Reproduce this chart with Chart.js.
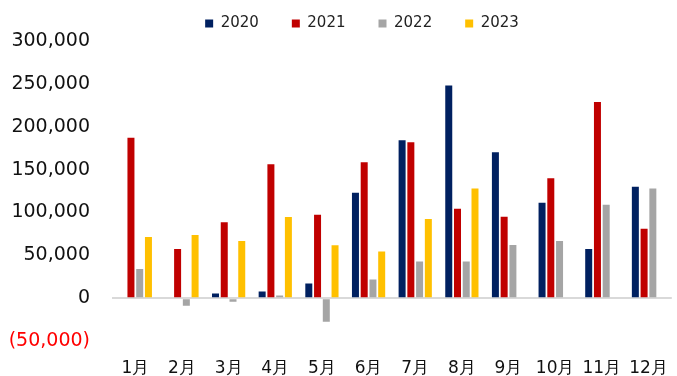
<!DOCTYPE html>
<html>
<head>
<meta charset="utf-8">
<script src="https://cdn.jsdelivr.net/npm/chart.js@4/dist/chart.umd.min.js"></script>
<style>
  html, body { margin: 0; padding: 0; background: #fff; }
  #wrap { width: 677px; height: 376px; }
</style>
</head>
<body>
<div id="wrap"><canvas id="c" width="677" height="376"></canvas></div>
<script>
// Monthly values by year
const months = ['1月','2月','3月','4月','5月','6月','7月','8月','9月','10月','11月','12月'];
const v2020 = [null, null, 5500, 7800, 17200, 123100, 184200, 248100, 170200, 111400, 57200, 130100];
const v2021 = [187000, 57200, 88400, 156200, 97400, 158500, 181800, 104400, 95100, 139800, 228900, 81000];
const v2022 = [33900, -8900, -4200, 3100, -27600, 21800, 42800, 42800, 61900, 66600, 109100, 127800];
const v2023 = [71300, 73600, 66600, 94600, 61600, 54500, 92300, 127800, null, null, null, null];
const yTicks = [-50000, 0, 50000, 100000, 150000, 200000, 250000, 300000];

const fontFam = '"DejaVu Sans", sans-serif';

function fmt(v) {
  if (v < 0) return '(' + Math.abs(v).toLocaleString('en-US') + ')';
  return v.toLocaleString('en-US');
}

function ds(label, data, color) {
  return {
    label, data,
    backgroundColor: color,
    borderWidth: 0,
    categoryPercentage: 0.75,
    barPercentage: 0.8
  };
}

// nudge the legend row to the right of the canvas centre
const legendShift = {
  id: 'legendShift',
  afterLayout(chart) {
    const lg = chart.legend;
    if (lg) { lg.left += 26; lg.right += 26; }
  }
};

new Chart(document.getElementById('c'), {
  type: 'bar',
  data: {
    labels: months,
    datasets: [
      ds('2020', v2020, '#002060'),
      ds('2021', v2021, '#C00000'),
      ds('2022', v2022, '#A5A5A5'),
      ds('2023', v2023, '#FFC000')
    ]
  },
  plugins: [legendShift],
  options: {
    responsive: false,
    animation: false,
    layout: { padding: { left: 0, right: 5, top: -17, bottom: 0 } },
    plugins: {
      legend: {
        position: 'top',
        align: 'center',
        labels: {
          boxWidth: 8,
          boxHeight: 8,
          padding: 33,
          color: '#222',
          font: { family: fontFam, size: 15 }
        }
      },
      tooltip: { enabled: false }
    },
    scales: {
      x: {
        afterFit: (s) => { s.height = 35; },
        grid: { display: false },
        border: { display: false },
        ticks: {
          color: '#111',
          font: { family: fontFam, size: 17 },
          maxRotation: 0,
          autoSkip: false,
          padding: 9
        }
      },
      y: {
        min: -50000,
        max: 300000,
        afterBuildTicks: (s) => { s.ticks = yTicks.map(v => ({ value: v })); },
        afterFit: (s) => { s.width = 112; },
        border: { display: false },
        grid: {
          drawTicks: false,
          color: (ctx) => ctx.tick && ctx.tick.value === 0 ? '#d9d9d9' : 'rgba(0,0,0,0)',
          lineWidth: 2
        },
        ticks: {
          padding: 22,
          color: (ctx) => ctx.tick && ctx.tick.value < 0 ? '#FF0000' : '#111',
          font: { family: fontFam, size: 19 },
          callback: (v) => fmt(v)
        }
      }
    }
  }
});
</script>
</body>
</html>
